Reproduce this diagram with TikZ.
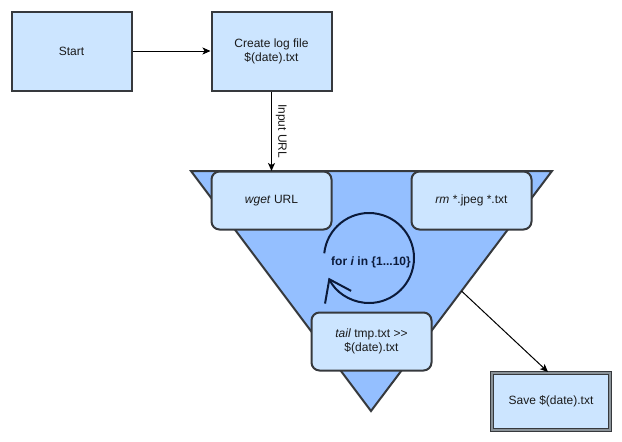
\documentclass[tikz,border=0pt]{standalone}
\usepackage{fontspec}
\setmainfont{Liberation Sans}
\usetikzlibrary{arrows.meta,calc}
\definecolor{boxfill}{HTML}{CCE5FF}
\definecolor{trifill}{HTML}{94BFFF}
\definecolor{edge}{HTML}{36393D}
\definecolor{loopline}{HTML}{0B1A3A}
\definecolor{band}{HTML}{8A9298}
\definecolor{ink}{HTML}{1A1A1A}
\begin{document}
\begin{tikzpicture}[x=1pt,y=-1pt,
  font=\fontsize{12}{14}\selectfont, text=ink,
  plainbox/.style={draw=edge, fill=boxfill, line width=2pt, minimum width=120pt,
    minimum height=79pt, inner sep=2pt, align=center},
  stagebox/.style={plainbox, rounded corners=8pt, minimum height=58pt},
  flow/.style={draw=black, line width=1pt, -{Stealth[length=8pt,width=7pt,inset=2pt]}},
]
\useasboundingbox (0,0) rectangle (622,442);

% first two steps
\node[plainbox] (start) at (71.5,51) {Start};
\node[plainbox] (logfile) at (271.5,51) {Create log file\\\$(date).txt};

% the loop body as a funnel
\coordinate (tl) at (191,171);
\coordinate (tr) at (552,171);
\coordinate (apex) at (371,411);
\draw[draw=edge, fill=trifill, line width=2pt] (tl) -- (tr) -- (apex) -- cycle;
\coordinate (edgemid) at ($(tr)!0.5!(apex)$);

% steps inside the loop
\node[stagebox] (wget) at (271.5,200.5) {\textit{wget} URL};
\node[stagebox] (rm) at (471.5,200.5) {\textit{rm} *.jpeg *.txt};
\node[stagebox] (tail) at (371.5,341.5) {\textit{tail} tmp.txt >{}>\\\$(date).txt};

% loop marker
\coordinate (loopc) at (369,258);
\draw[loopline, line width=2pt, -{Straight Barb[length=20pt,width=29pt]}]
  ([shift={(174:45pt)}]loopc) arc[start angle=174, end angle=-154, radius=45pt];
\node[font=\fontsize{12}{14}\selectfont\bfseries, text=loopline] (looplabel) at (371,262)
  {for \textit{i} in \{1...10\}};

% final step
\node[draw=edge, double=band, double distance=2pt, line width=1pt, fill=boxfill,
  minimum width=118pt, minimum height=57pt, inner sep=2pt] (save) at (551,401)
  {Save \$(date).txt};

% connectors
\draw[flow] (start) -- (logfile);
\draw[flow] (logfile.south) -- (logfile.south |- tl)
  node[midway, rotate=-90, anchor=south, inner sep=4pt] (urllabel) {Input URL};
\draw[flow] (edgemid) -- ([xshift=-3pt]save.north);
\end{tikzpicture}
\end{document}
